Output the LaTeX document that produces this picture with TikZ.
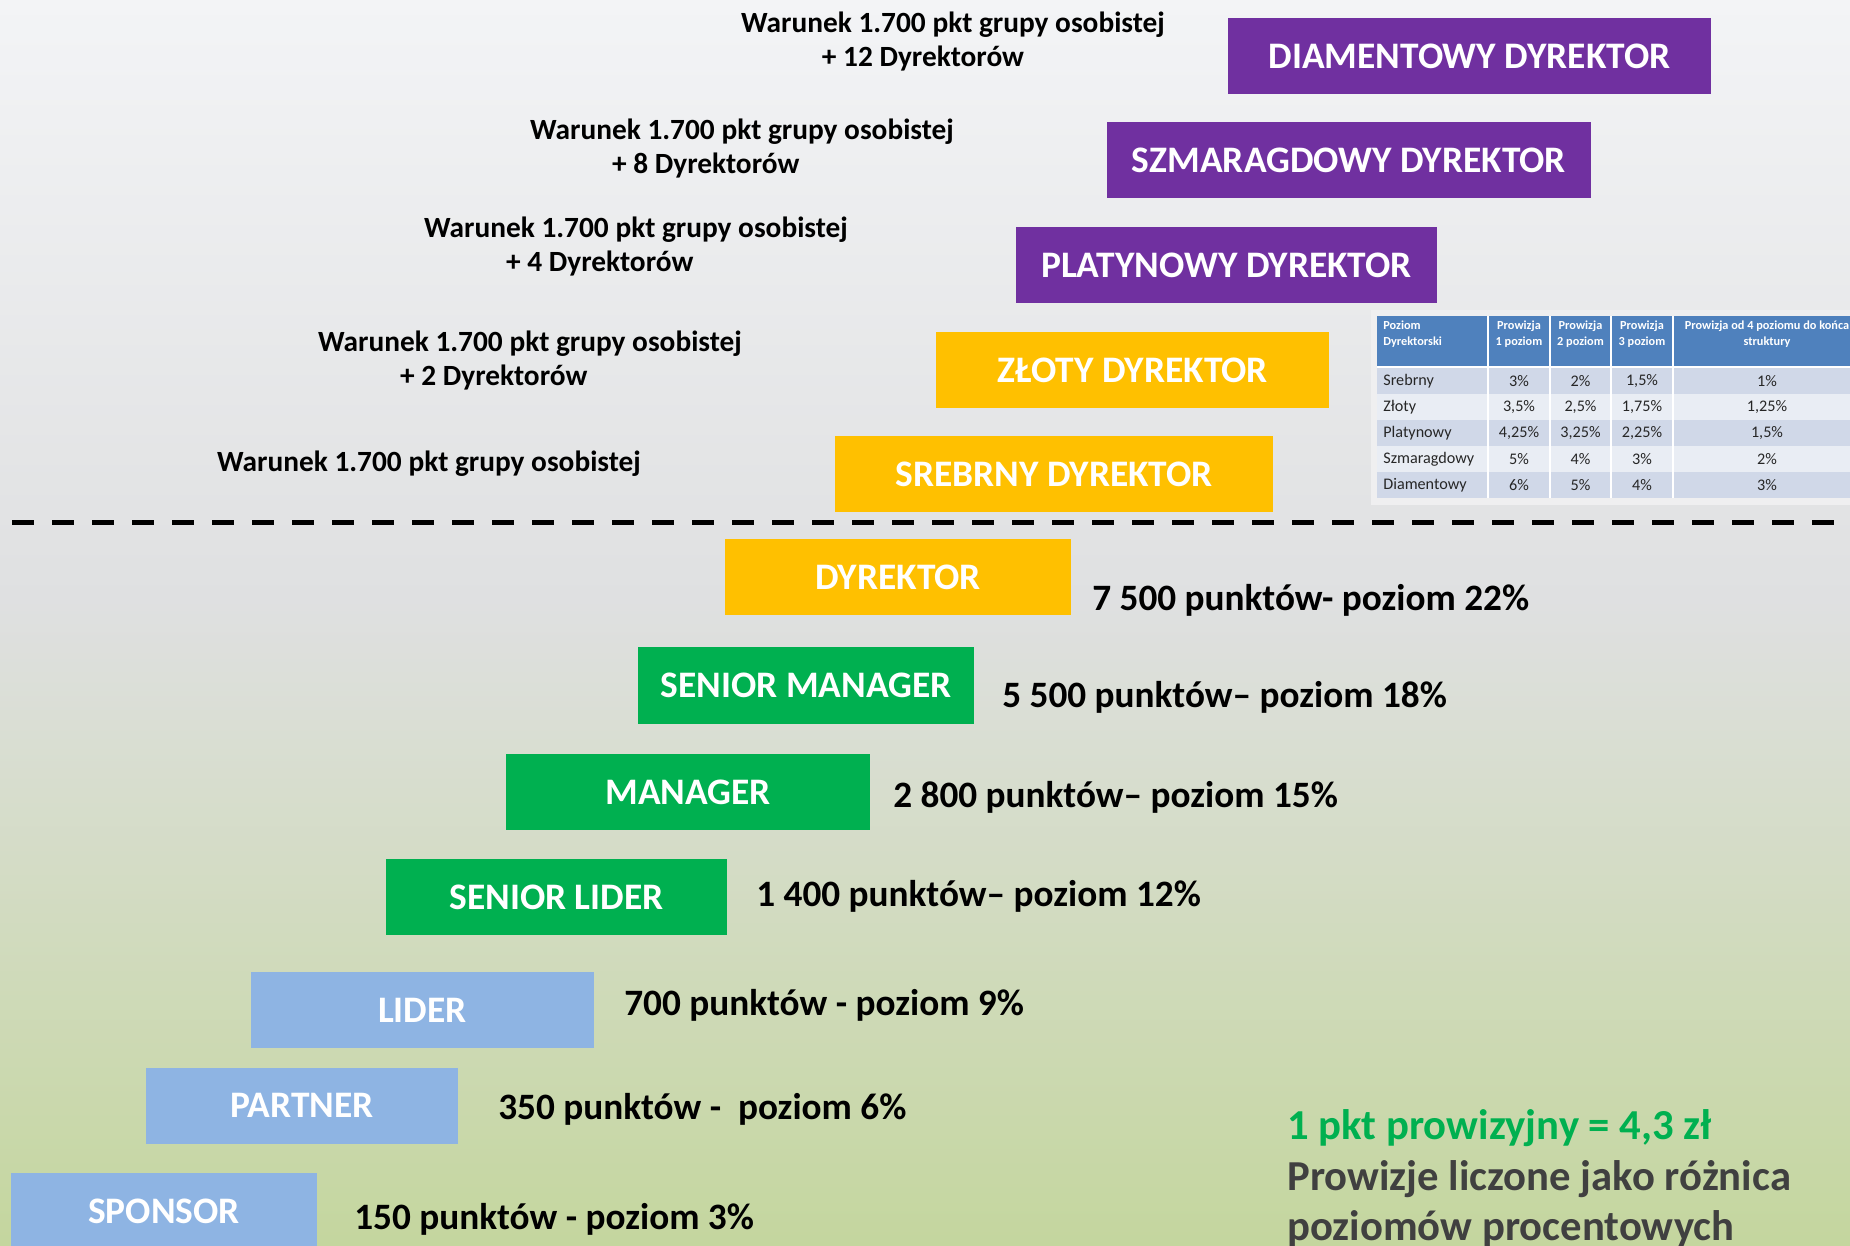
\documentclass[tikz,border=0pt]{standalone}
\usepackage{fontspec}
\setmainfont{Carlito}
\usetikzlibrary{positioning}
\definecolor{purpleRank}{HTML}{7030A0}
\definecolor{goldRank}{HTML}{FFC000}
\definecolor{greenRank}{HTML}{00B050}
\definecolor{blueRank}{HTML}{8EB4E3}
\definecolor{tabHead}{HTML}{4F81BD}
\definecolor{tabDark}{HTML}{D0D8E8}
\definecolor{tabLight}{HTML}{E9EDF4}
\definecolor{bgTop}{HTML}{F3F4F6}
\definecolor{bgMid}{HTML}{DFE0E1}
\definecolor{bgBot}{HTML}{C4D69E}
\definecolor{noteGray}{HTML}{404040}
\newcommand{\lineshift}[1]{\rule{#1}{0pt}}
\tikzset{
  rank/.style={rectangle,inner sep=0pt,text=white,minimum height=76*0.02cm,
    font=\fontsize{21.3}{24}\selectfont\bfseries},
  wide/.style={minimum width=#1*0.02cm},
  cond/.style={align=center,inner sep=0pt,font=\fontsize{16.7}{19.8}\selectfont\bfseries},
  pts/.style={anchor=west,inner sep=0pt,font=\fontsize{21.2}{26}\selectfont\bfseries},
  note/.style={anchor=west,inner sep=0pt,font=\fontsize{24.3}{28}\selectfont\bfseries},
  thead/.style={inner sep=0pt,text=white,align=center,anchor=north,
    font=\fontsize{7}{8.6}\selectfont\bfseries},
  tcell/.style={inner sep=0pt,text=black!85,font=\fontsize{9.2}{10}\selectfont}
}
\begin{document}
\begin{tikzpicture}[x=0.02cm,y=-0.02cm]
\useasboundingbox (0,0) rectangle (1850,1246);
\shade[top color=bgTop,bottom color=bgMid] (0,0) rectangle (1850,600);
\shade[top color=bgMid,bottom color=bgBot] (0,599) rectangle (1850,1246);
% directors above the line
\node (diament) [rank,wide=483,fill=purpleRank] at (1469.5,56) {DIAMENTOWY DYREKTOR};
\node (szmarag) [rank,wide=484,fill=purpleRank] at (1349,160) {SZMARAGDOWY DYREKTOR};
\node (platyna) [rank,wide=421,fill=purpleRank] at (1226.5,265.5) {PLATYNOWY DYREKTOR};
\node (zloty) [rank,wide=393,fill=goldRank] at (1132.5,370.5) {ZŁOTY DYREKTOR};
\node (srebro) [rank,wide=438,fill=goldRank] at (1054,474) {SREBRNY DYREKTOR};
%
\node (wDiament) [cond] at (953,41.5) {Warunek 1.700 pkt grupy osobistej\\+ 12 Dyrektorów\lineshift{1.2cm}};
\node (wSzmarag) [cond] at (742,148.5) {Warunek 1.700 pkt grupy osobistej\\+ 8 Dyrektorów\lineshift{1.45cm}};
\node (wPlatyna) [cond] at (636,246.5) {Warunek 1.700 pkt grupy osobistej\\+ 4 Dyrektorów\lineshift{1.45cm}};
\node (wZloty) [cond] at (530,360.5) {Warunek 1.700 pkt grupy osobistej\\+ 2 Dyrektorów\lineshift{1.45cm}};
\node (wSrebro) [cond] at (429,464) {Warunek 1.700 pkt grupy osobistej};
% separator
\coordinate (sepL) at (12,523);
\coordinate (sepR) at (1850,523);
\draw[line width=5*0.02cm,dash pattern=on 22*0.02cm off 18*0.02cm] (sepL) -- (sepR);
% ranks below the line
\node (dyr) [rank,wide=346,fill=goldRank] at (898,577) {DYREKTOR};
\node (sman) [rank,wide=336,fill=greenRank] at (806,685.5) {SENIOR MANAGER};
\node (man) [rank,wide=364,fill=greenRank] at (688,792) {MANAGER};
\node (slid) [rank,wide=341,fill=greenRank] at (556.5,897) {SENIOR LIDER};
\node (lid) [rank,wide=343,fill=blueRank] at (422.5,1010) {LIDER};
\node (part) [rank,wide=312,fill=blueRank] at (302,1105.5) {PARTNER};
\node (spon) [rank,wide=306,fill=blueRank] at (164,1211) {SPONSOR};
%
\node (pDyr) [pts] at (1092,600) {7 500 punktów- poziom 22\%};
\node (pSman) [pts] at (1002,697) {5 500 punktów– poziom 18\%};
\node (pMan) [pts] at (893,797) {2 800 punktów– poziom 15\%};
\node (pSlid) [pts] at (756,896) {1 400 punktów– poziom 12\%};
\node (pLid) [pts] at (624,1005) {700 punktów - poziom 9\%};
\node (pPart) [pts] at (498,1109) {350 punktów -\ \ poziom 6\%};
\node (pSpon) [pts] at (354,1219) {150 punktów - poziom 3\%};
% note
\node (rate) [note,text=greenRank] at (1287,1128) {1 pkt prowizyjny = 4,3 zł};
\node (diff1) [note,text=noteGray] at (1287,1179) {Prowizje liczone jako różnica};
\node (diff2) [note,text=noteGray] at (1287,1229) {poziomów procentowych};
% commission table
\begin{scope}
\clip (1370,300) rectangle (1850,510);
\fill[white!50!bgMid] (1371,310) rectangle (1870,505);
\fill[tabHead] (1377,316) rectangle (1861,366);
\foreach \nm/\a/\b/\c/\d/\col [count=\i from 0] in
  {Srebrny/3\%/2\%/{1,5\%}/1\%/tabDark,
   Złoty/{3,5\%}/{2,5\%}/{1,75\%}/{1,25\%}/tabLight,
   Platynowy/{4,25\%}/{3,25\%}/{2,25\%}/{1,5\%}/tabDark,
   Szmaragdowy/5\%/4\%/3\%/2\%/tabLight,
   Diamentowy/6\%/5\%/4\%/3\%/tabDark} {
  \fill[\col] (1377,368+26*\i) rectangle (1861,394+26*\i);
  \node (row\i) [tcell,anchor=west] at (1383,381+26*\i) {\nm};
  \node (row\i a) [tcell] at (1519,381+26*\i) {\a};
  \node (row\i b) [tcell] at (1580.5,381+26*\i) {\b};
  \node (row\i c) [tcell] at (1642,381+26*\i) {\c};
  \node (row\i d) [tcell] at (1767,381+26*\i) {\d};
}
\foreach \x in {1488,1550,1611,1673}
  \draw[white,line width=1.2*0.02cm] (\x,316) -- (\x,498);
\draw[white,line width=2*0.02cm] (1377,367) -- (1861,367);
\node (hPoziom) [thead,anchor=north west,align=left] at (1383,321) {Poziom\\Dyrektorski};
\node (hP1) [thead] at (1519,321) {Prowizja\\1 poziom};
\node (hP2) [thead] at (1580.5,321) {Prowizja\\2 poziom};
\node (hP3) [thead] at (1642,321) {Prowizja\\3 poziom};
\node (hP4) [thead] at (1767,321) {Prowizja od 4 poziomu do końca\\struktury};
\end{scope}
\end{tikzpicture}
\end{document}
